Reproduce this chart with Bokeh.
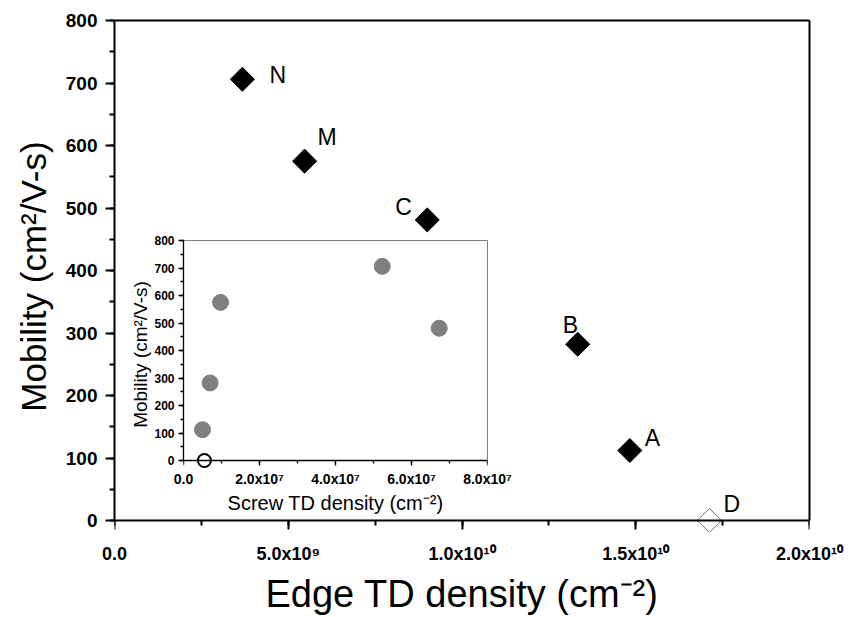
from bokeh.plotting import figure
from bokeh.models import (Range1d, CustomJSTickFormatter, SingleIntervalTicker, FixedTicker,
                          LinearAxis, GridBox, ColumnDataSource)
from bokeh.embed import file_html
from bokeh.resources import INLINE
from bokeh.core.properties import value

# ---------------- data ----------------
samples = ["N", "M", "C", "B", "A", "D"]
edge_td_density = [3.68e9, 5.47e9, 9.0e9, 1.333e10, 1.483e10, 1.712e10]   # cm^-2
mobility = [706, 575, 481, 282, 112, 0]                                  # cm^2/V-s
screw_td_density = [5.23e7, 9.75e6, 6.73e7, 7.0e6, 5.0e6, 5.5e6]         # cm^-2
open_marker = [False, False, False, False, False, True]

x_main_max = 2e10
x_inset_max = 8e7
y_max = 800

# label placement (pixel offsets from each point) -- style only
label_dx = [27, 13, -32, -15, 15, 14]
label_dy = [-4, -24, -13, -19, -13, -17]

FONT = "Liberation Sans"

sci_fmt = CustomJSTickFormatter(code="""
if (Math.abs(tick) < 1e-30) return "0.0";
const e = Math.floor(Math.log10(Math.abs(tick)) + 1e-9);
const m = tick / Math.pow(10, e);
const sup = {"0":"\u2070","1":"\u00b9","2":"\u00b2","3":"\u00b3","4":"\u2074",
             "5":"\u2075","6":"\u2076","7":"\u2077","8":"\u2078","9":"\u2079","-":"\u207b"};
let s = "";
for (const c of String(e)) s += sup[c];
return m.toFixed(1) + "x10" + s;
""")
blank_fmt = CustomJSTickFormatter(code='return "";')

def style_axis(ax, tick_size, lw, maj, mnr, standoff):
    ax.axis_line_width = lw
    ax.axis_line_color = "black"
    ax.major_tick_line_width = lw
    ax.minor_tick_line_width = lw
    ax.major_tick_line_color = "black"
    ax.minor_tick_line_color = "black"
    ax.major_tick_out = maj
    ax.major_tick_in = 0
    ax.minor_tick_out = mnr
    ax.minor_tick_in = 0
    ax.major_label_text_font = FONT
    ax.major_label_text_font_style = "bold"
    ax.major_label_text_font_size = tick_size
    ax.major_label_text_color = "black"
    ax.major_label_standoff = standoff
    ax.axis_label_text_font = FONT
    ax.axis_label_text_font_style = "normal"
    ax.axis_label_text_color = "black"

def frame_line(fig, side, color, lw):
    ax = LinearAxis(ticker=FixedTicker(ticks=[]), axis_line_color=color, axis_line_width=lw,
                    major_tick_line_color=None, minor_tick_line_color=None,
                    major_label_text_font_size="0px")
    if side == "right":
        ax.bounds = (0, y_max)
    fig.add_layout(ax, side)

def label_axis(fig, ticker, tick_size, standoff, text, text_size, label_standoff):
    """x axis holding only tick labels and the title (the line/ticks sit at y = 0)."""
    ax = LinearAxis(ticker=ticker, formatter=sci_fmt)
    style_axis(ax, tick_size, 1, 0, 0, standoff)
    ax.axis_line_color = None
    ax.major_tick_line_color = None
    ax.minor_tick_line_color = None
    ax.axis_label = text
    ax.axis_label_text_font_size = text_size
    ax.axis_label_standoff = label_standoff
    fig.add_layout(ax, "below")

# ---------------- main plot ----------------
MAIN_FRAME_H = 500      # px spanned by 0..800
MAIN_PAD = 12           # px of frame below the x axis so markers at 0 are not cut
p = figure(width=852, height=617,
           x_range=Range1d(0, x_main_max),
           y_range=Range1d(-y_max * MAIN_PAD / MAIN_FRAME_H, y_max),
           output_backend="svg", toolbar_location=None,
           min_border_left=114, min_border_right=43, min_border_top=20,
           min_border_bottom=617 - 20 - MAIN_FRAME_H - MAIN_PAD)
p.xgrid.visible = False
p.ygrid.visible = False
p.outline_line_color = None
p.background_fill_color = "white"
p.border_fill_color = "white"

xa, ya = p.xaxis[0], p.yaxis[0]
main_xticker = SingleIntervalTicker(interval=5e9, num_minor_ticks=2)
xa.ticker = main_xticker
ya.ticker = SingleIntervalTicker(interval=100, num_minor_ticks=2)
xa.formatter = blank_fmt
xa.fixed_location = 0
ya.bounds = (0, y_max)
style_axis(xa, "1px", 2, 9, 5, 0)
style_axis(ya, "19px", 2, 9, 5, 8)
ya.axis_label = "Mobility (cm\u00b2/V-s)"
ya.axis_label_text_font_size = "35px"
ya.axis_label_standoff = 10
label_axis(p, main_xticker, "18px", 11, "Edge TD density (cm\u207b\u00b2)", "38px", 6)
frame_line(p, "above", "black", 2)
frame_line(p, "right", "black", 2)

src = ColumnDataSource(dict(
    x=edge_td_density, y=mobility, name=samples,
    fill=["white" if o else "black" for o in open_marker],
    line=["#707070" if o else "black" for o in open_marker],
    dx=label_dx, dy=label_dy,
))
p.scatter("x", "y", source=src, marker="square", angle=0.785398, size=17,
          fill_color="fill", line_color="line", line_width=1)
p.text("x", "y", text="name", source=src, x_offset="dx", y_offset="dy",
       text_font=value(FONT), text_font_size="23px", text_color="black",
       text_align="left", text_baseline="alphabetic")

# ---------------- inset ----------------
INS_FRAME_H = 220
INS_PAD = 8
INS_BOTTOM = 50
ins = figure(width=394, height=8 + INS_FRAME_H + INS_PAD + INS_BOTTOM,
             x_range=Range1d(0, x_inset_max),
             y_range=Range1d(-y_max * INS_PAD / INS_FRAME_H, y_max),
             output_backend="svg", toolbar_location=None,
             min_border_left=58, min_border_right=32, min_border_top=8,
             min_border_bottom=INS_BOTTOM)
ins.xgrid.visible = False
ins.ygrid.visible = False
ins.outline_line_color = None
ins.background_fill_color = "white"
ins.border_fill_alpha = 0
ixa, iya = ins.xaxis[0], ins.yaxis[0]
ins_xticker = SingleIntervalTicker(interval=2e7, num_minor_ticks=2)
ixa.ticker = ins_xticker
iya.ticker = SingleIntervalTicker(interval=100, num_minor_ticks=2)
ixa.formatter = blank_fmt
ixa.fixed_location = 0
iya.bounds = (0, y_max)
style_axis(ixa, "1px", 1.3, 5, 3, 0)
style_axis(iya, "12px", 1.3, 5, 3, 4)
iya.axis_label = "Mobility (cm\u00b2/V-s)"
iya.axis_label_text_font_size = "19px"
iya.axis_label_standoff = 0
label_axis(ins, ins_xticker, "14px", 2, "Screw TD density (cm\u207b\u00b2)", "20px", 2)
frame_line(ins, "above", "#808080", 1)
frame_line(ins, "right", "#808080", 1)

isrc = ColumnDataSource(dict(
    x=screw_td_density, y=mobility,
    fill=["white" if o else "#808080" for o in open_marker],
    line=["black" if o else "#808080" for o in open_marker],
    lw=[2 if o else 1 for o in open_marker],
    sz=[13 if o else 16 for o in open_marker],
))
ins.scatter("x", "y", source=isrc, marker="circle", size="sz",
            fill_color="fill", line_color="line", line_width="lw")

grid = GridBox(children=[(p, 0, 0, 3, 3), (ins, 1, 1)],
               rows=["232px", "%dpx" % ins.height, "%dpx" % (617 - 232 - ins.height)],
               cols=["125px", "394px", "333px"])

open("out.html", "w", encoding="utf-8").write(file_html(grid, INLINE))
